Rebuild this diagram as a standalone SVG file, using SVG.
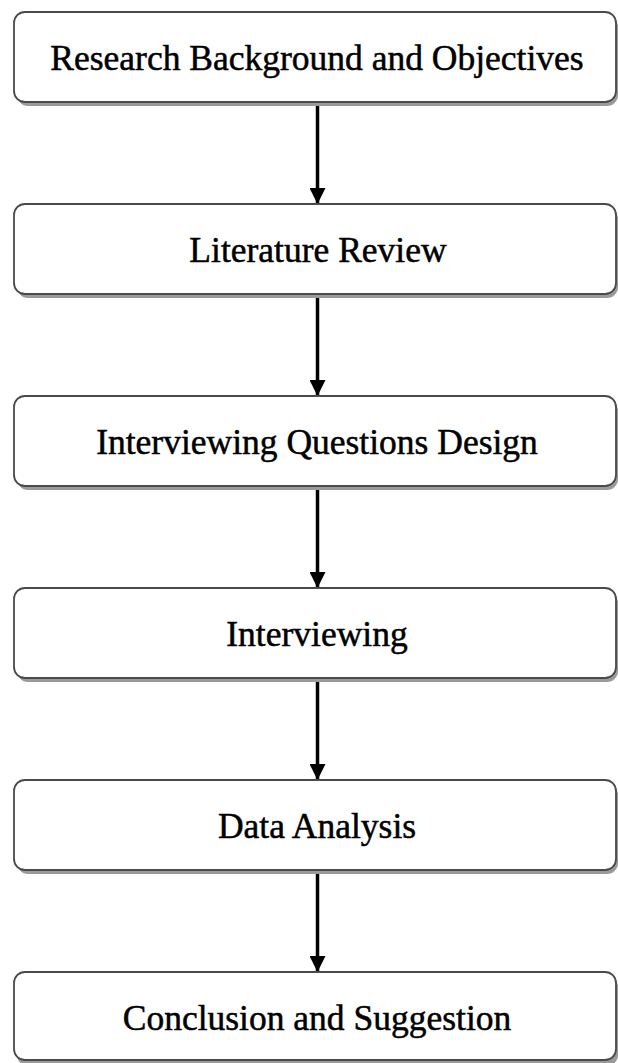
<svg xmlns="http://www.w3.org/2000/svg" width="618" height="1063" viewBox="0 0 618 1063">
<style>
.box{fill:#fff;stroke:#4a4a4a;stroke-width:1.8}
.shadow{fill:#9a9a9a}
.lbl{font-family:"Liberation Serif","Times New Roman",serif;font-size:35.5px;fill:#000;stroke:#000;stroke-width:0.5;text-anchor:middle}
.conn{stroke:#000;stroke-width:3.5;fill:none}
</style>
<defs>
<marker id="ah" markerWidth="16" markerHeight="16" refX="15" refY="8" orient="auto" markerUnits="userSpaceOnUse">
<path d="M0,0 L16,8 L0,16 Z" fill="#000"/>
</marker>
</defs>
<rect width="618" height="1063" fill="#fff"/>
<g id="connectors">
<line class="conn" x1="317.5" y1="102" x2="317.5" y2="203" marker-end="url(#ah)"/>
<line class="conn" x1="317.5" y1="294" x2="317.5" y2="395" marker-end="url(#ah)"/>
<line class="conn" x1="317.5" y1="486" x2="317.5" y2="587" marker-end="url(#ah)"/>
<line class="conn" x1="317.5" y1="678" x2="317.5" y2="779" marker-end="url(#ah)"/>
<line class="conn" x1="317.5" y1="870" x2="317.5" y2="971" marker-end="url(#ah)"/>
</g>
<g id="node1">
<rect class="shadow" x="17" y="16" width="601" height="90" rx="11"/>
<rect class="box" x="14" y="12" width="602" height="90" rx="11"/>
<text class="lbl" x="317" y="70">Research Background and Objectives</text>
</g>
<g id="node2">
<rect class="shadow" x="17" y="208" width="601" height="90" rx="11"/>
<rect class="box" x="14" y="204" width="602" height="90" rx="11"/>
<text class="lbl" x="318" y="262">Literature Review</text>
</g>
<g id="node3">
<rect class="shadow" x="17" y="400" width="601" height="90" rx="11"/>
<rect class="box" x="14" y="396" width="602" height="90" rx="11"/>
<text class="lbl" x="317" y="454">Interviewing Questions Design</text>
</g>
<g id="node4">
<rect class="shadow" x="17" y="592" width="601" height="90" rx="11"/>
<rect class="box" x="14" y="588" width="602" height="90" rx="11"/>
<text class="lbl" x="317" y="646">Interviewing</text>
</g>
<g id="node5">
<rect class="shadow" x="17" y="784" width="601" height="90" rx="11"/>
<rect class="box" x="14" y="780" width="602" height="90" rx="11"/>
<text class="lbl" x="317" y="838">Data Analysis</text>
</g>
<g id="node6">
<rect class="shadow" x="17" y="976" width="601" height="90" rx="11"/>
<rect class="box" x="14" y="972" width="602" height="88" rx="11"/>
<text class="lbl" x="317" y="1030">Conclusion and Suggestion</text>
</g>
</svg>
